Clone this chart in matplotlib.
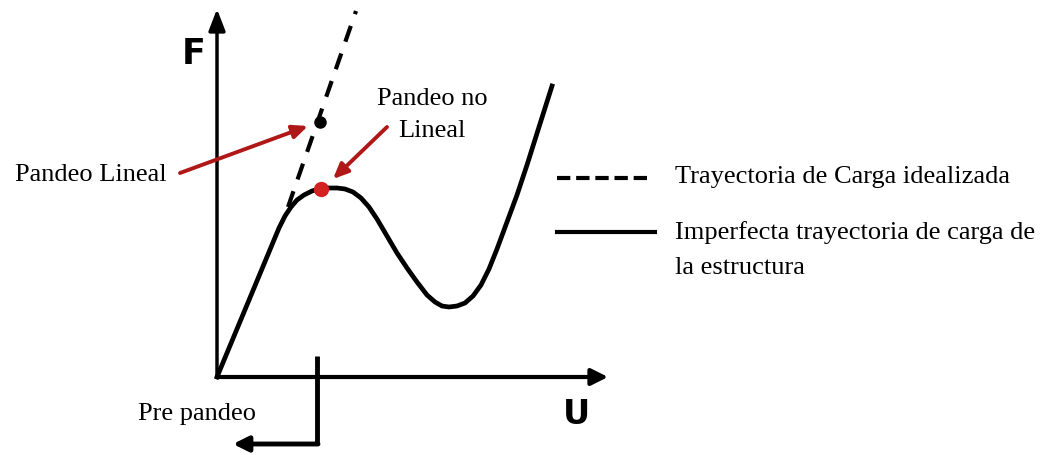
import numpy as np
import matplotlib
matplotlib.use("Agg")
import matplotlib.pyplot as plt

# curva de carga imperfecta (U, F)
u_curve = [0, 62, 68, 74, 80, 87, 95, 104, 112, 120, 128, 136, 144, 152,
           160, 170, 180, 190, 200, 210, 218, 225, 232, 240, 248, 256,
           264, 272, 280, 290, 300, 310, 322, 335]
f_curve = [0, 149, 161, 170, 177, 182, 186, 188.5, 189, 189, 188, 185, 179, 170,
           158, 141, 124, 109, 95, 82, 75, 71, 70, 71, 74, 81,
           92, 108, 128, 155, 182, 212, 250, 291]
# trayectoria idealizada
u_ideal = [71, 139]
f_ideal = [170, 366]
# puntos de pandeo
pt_lineal = (103, 255)
pt_nolineal = (104, 188)

serif = ['Liberation Serif', 'DejaVu Serif']
fs = 19

fig = plt.figure(figsize=(10.5, 4.56), dpi=100)
ax = fig.add_axes([0, 0, 1, 1])
ax.set_xlim(-217, 833)
ax.set_ylim(-78, 378)
ax.axis('off')

# ejes
ax.annotate('', xy=(0, 368), xytext=(0, 0),
            arrowprops=dict(arrowstyle='-|>,head_length=1.3,head_width=0.5',
                            color='black', lw=2.5, shrinkA=0, shrinkB=0))
ax.annotate('', xy=(391, 0), xytext=(0, 0),
            arrowprops=dict(arrowstyle='-|>,head_length=1.0,head_width=0.5',
                            color='black', lw=3, shrinkA=0, shrinkB=0))
ax.text(-23, 324, 'F', fontsize=25, fontweight='bold', ha='center', va='center',
        family=['Liberation Sans Narrow', 'DejaVu Sans'])
ax.text(360, -37, 'U', fontsize=24, fontweight='bold', ha='center', va='center',
        family=['Liberation Sans Narrow', 'DejaVu Sans'])

# pre pandeo
ax.plot([100, 100], [21, -67], color='black', lw=3.5, solid_capstyle='butt')
ax.annotate('', xy=(16, -67), xytext=(101, -67),
            arrowprops=dict(arrowstyle='-|>,head_length=0.9,head_width=0.45',
                            color='black', lw=3.5, shrinkA=0, shrinkB=0))
ax.text(-79, -36, 'Pre pandeo', fontsize=fs, family=serif, ha='left', va='center')

# curvas
ax.plot(u_ideal, f_ideal, color='black', lw=3, dashes=(4, 3))
ax.plot(u_curve, f_curve, color='black', lw=3.4, solid_joinstyle='round')
ax.plot(*pt_lineal, 'o', color='black', ms=8)
ax.plot(*pt_nolineal, 'o', color='#d42020', ms=10)

# flechas rojas
ax.annotate('', xy=(91, 251), xytext=(-37, 204),
            arrowprops=dict(arrowstyle='-|>,head_length=0.9,head_width=0.4',
                            color='#b01818', lw=2.8, shrinkA=0, shrinkB=0))
ax.annotate('', xy=(116, 198), xytext=(170, 250),
            arrowprops=dict(arrowstyle='-|>,head_length=0.9,head_width=0.4',
                            color='#b01818', lw=2.8, shrinkA=0, shrinkB=0))
ax.text(-202, 203, 'Pandeo Lineal', fontsize=fs, family=serif, ha='left', va='center')
ax.text(215, 263, 'Pandeo no\nLineal', fontsize=fs, family=serif, ha='center',
        va='center', linespacing=1.58)

# leyenda
ax.plot([340, 433], [199, 199], color='black', lw=3, dashes=(3.2, 1.4))
ax.plot([340, 438], [145, 145], color='black', lw=3)
ax.text(458, 201, 'Trayectoria de Carga idealizada', fontsize=fs, family=serif,
        ha='left', va='center')
ax.text(458, 128, 'Imperfecta trayectoria de carga de\nla estructura', fontsize=fs,
        family=serif, ha='left', va='center', linespacing=1.75)

fig.savefig('out.png', dpi=100)
